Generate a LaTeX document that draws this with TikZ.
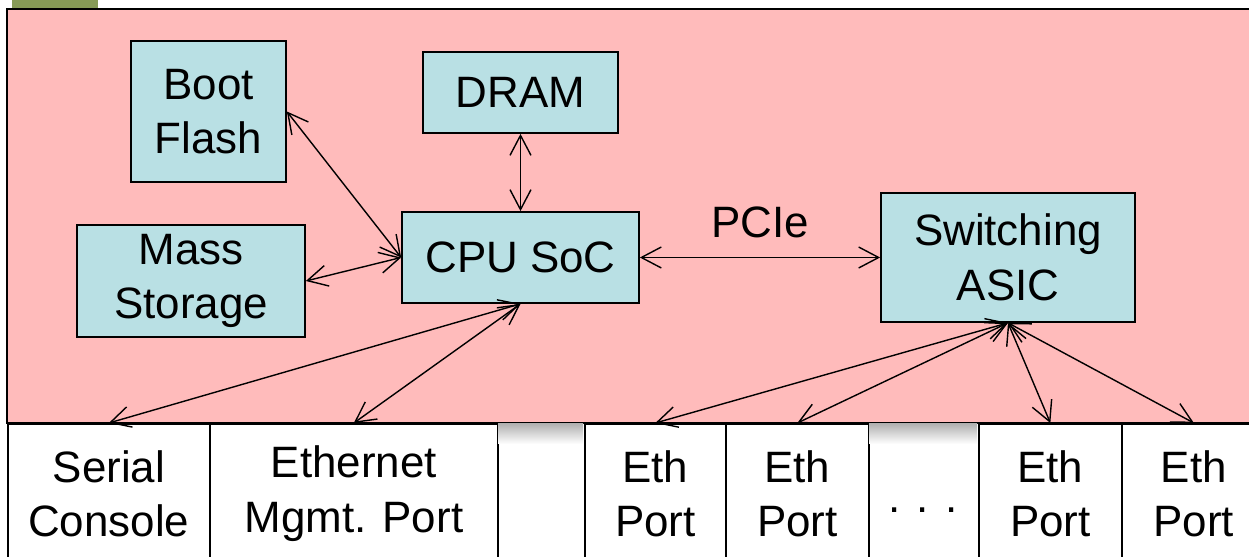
\documentclass[tikz,border=0pt]{standalone}
\usepackage{fontspec}
\setmainfont{Liberation Sans}
\usetikzlibrary{arrows.meta}

\definecolor{fondorosa}{HTML}{FFBBBB}
\definecolor{cajaazul}{HTML}{B9E0E4}
\definecolor{verdeoliva}{HTML}{869A56}

\tikzset{
  texto/.style={font=\fontsize{25}{31}\selectfont},
  caja/.style={texto, draw, line width=1pt, fill=cajaazul, align=center, inner sep=0pt},
  puerto/.style={texto, draw, line width=1pt, fill=white, align=center, inner sep=0pt,
    anchor=north west, minimum height=2.8cm},
  flecha/.style={<->, line width=0.8pt, >={Straight Barb[length=4mm,width=4.2mm]}},
}

\begin{document}
\begin{tikzpicture}[x=0.02cm, y=-0.02cm]
    \useasboundingbox (0,0) rectangle (1249,557);
    \clip (0,0) rectangle (1249,557);

    % Fondo
    \fill[verdeoliva] (12,-10) rectangle (98,9);
    \draw[line width=1.2pt, fill=fondorosa] (7,9) rectangle (1265,423);

    % Puertos del panel frontal
    \node[puerto, minimum width=4.04cm] (serial) at (7,423) {Serial\\Console};
    \node[puerto, minimum width=5.76cm] (mgmt) at (209,423) {Ethernet\\Mgmt. Port};
    \node[puerto, minimum width=2.82cm] (eth1) at (584,423) {Eth\\Port};
    \node[puerto, minimum width=2.86cm] (eth2) at (725,423) {Eth\\Port};
    \node[puerto, minimum width=2.86cm] (eth3) at (978,423) {Eth\\Port};
    \node[puerto, minimum width=2.88cm] (eth4) at (1121,423) {Eth\\Port};
    \node[texto] (puntos) at (923,510) {. . .};

    % Sombras en los huecos
    \shade[top color=gray!60, bottom color=white] (498,424) rectangle (583,444);
    \shade[top color=gray!60, bottom color=white] (869,424) rectangle (977,444);

    % Componentes
    \node[caja, minimum width=3.1cm, minimum height=2.82cm] (boot) at (208.5,111.5) {Boot\\Flash};
    \node[caja, minimum width=3.9cm, minimum height=1.62cm] (dram) at (520.5,92.5) {DRAM};
    \node[caja, minimum width=4.74cm, minimum height=1.82cm] (cpu) at (520.5,257.5) {CPU SoC};
    \node[caja, minimum width=4.56cm, minimum height=2.24cm] (mass) at (191,281) {Mass\\Storage};
    \node[caja, minimum width=5.08cm, minimum height=2.58cm] (asic) at (1008,257.5) {Switching\\ASIC};

    % Conexiones
    \draw[flecha] (boot.east) -- (cpu.west);
    \draw[flecha] (mass.east) -- (cpu.west);
    \draw[flecha] (dram.south) -- (cpu.north);
    \draw[flecha] (cpu.east) -- node[texto, above=11pt, inner sep=0pt] {PCIe} (asic.west);
    \draw[flecha] (cpu.south) -- (serial.north);
    \draw[flecha] (cpu.south) -- (mgmt.north);
    \foreach \p in {eth1,eth2,eth3,eth4}
      \draw[flecha] (asic.south) -- (\p.north);
\end{tikzpicture}
\end{document}
